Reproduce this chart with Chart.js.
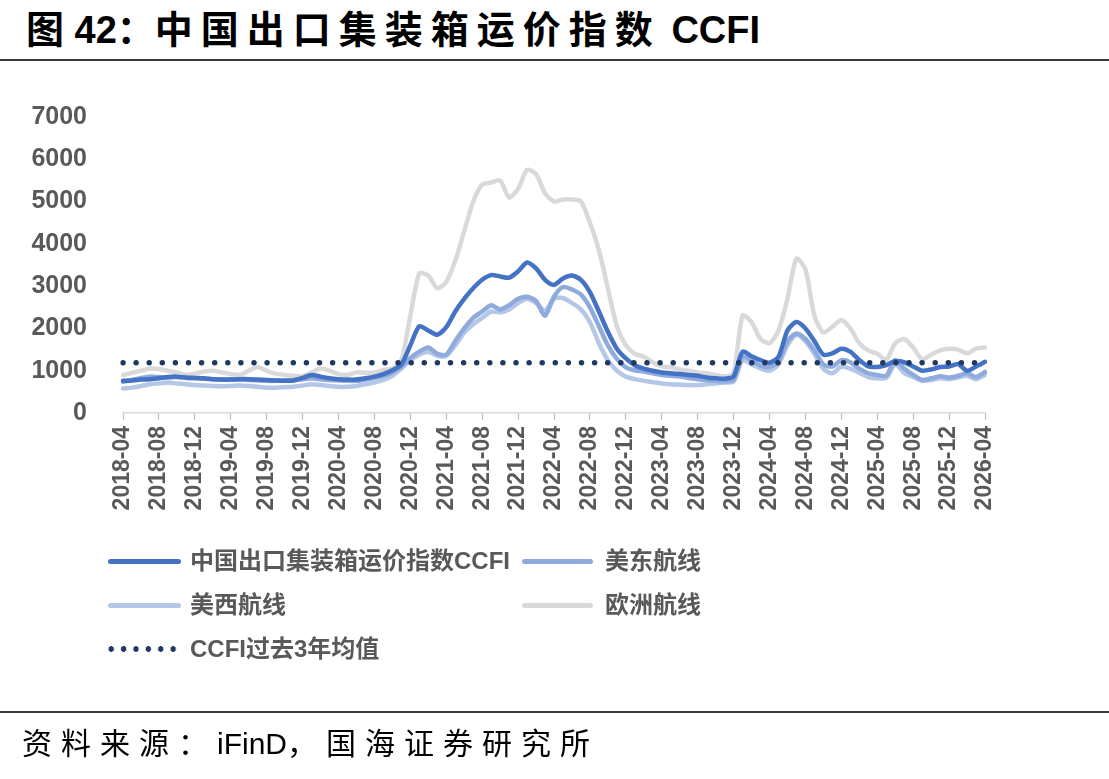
<!DOCTYPE html>
<html><head><meta charset="utf-8">
<script src="https://cdn.jsdelivr.net/npm/chart.js@4.4.1/dist/chart.umd.min.js"></script>
<style>
html,body{margin:0;padding:0;background:#fff;width:1109px;height:779px;overflow:hidden;position:relative;font-family:"Liberation Sans","Noto Sans CJK SC",sans-serif;}
#title{position:absolute;left:26px;top:5px;font-size:38px;font-weight:bold;color:#000;white-space:nowrap;line-height:50px;}
#title .cj{letter-spacing:8px;}
.rule{position:absolute;left:0;width:1109px;height:2px;background:#3a3a3a;}
#c{position:absolute;left:0;top:0;}
.leg{position:absolute;font-size:24px;font-weight:bold;color:#595959;white-space:nowrap;line-height:30px;}
.sw{position:absolute;height:5px;border-radius:3px;}
.dots{position:absolute;height:6px;width:74px;background-image:radial-gradient(circle,#1f3864 2.6px,transparent 3px);background-size:12.4px 6px;background-repeat:repeat-x;}
#src{position:absolute;left:22px;top:724px;font-size:30px;color:#000;white-space:nowrap;line-height:40px;}
#src .cj{letter-spacing:9px;}
</style></head>
<body>
<div id="title">图 42：<span class="cj">中国出口集装箱运价指数</span> CCFI</div>
<div class="rule" style="top:59px"></div>
<canvas id="c" width="1109" height="779"></canvas>

<div class="sw" style="left:108px;top:559px;width:73px;background:#4472c4"></div>
<div class="leg" style="left:190px;top:546px">中国出口集装箱运价指数CCFI</div>
<div class="sw" style="left:522px;top:559px;width:71px;background:#8faadc"></div>
<div class="leg" style="left:605px;top:546px">美东航线</div>
<div class="sw" style="left:108px;top:603px;width:73px;background:#b4c7e7"></div>
<div class="leg" style="left:190px;top:590px">美西航线</div>
<div class="sw" style="left:522px;top:603px;width:71px;background:#d9d9d9"></div>
<div class="leg" style="left:605px;top:590px">欧洲航线</div>
<div class="dots" style="left:105px;top:646px"></div>
<div class="leg" style="left:190px;top:634px">CCFI过去3年均值</div>

<div class="rule" style="top:711px"></div>
<div id="src"><span class="cj">资料来源：</span>iFinD<span class="cj">，国海证券研究所</span></div>

<script>
// Monthly categories 2018-04 ... 2026-04
const months = [];
for (let y = 2018; y <= 2026; y++) {
  for (let m = 1; m <= 12; m++) {
    if ((y === 2018 && m < 4) || (y === 2026 && m > 4)) continue;
    months.push(y + '-' + String(m).padStart(2, '0'));
  }
}

const ccfi = [
  760,770,790,800,820,850,860,840,830,820,800,790,
  790,800,800,790,780,770,760,770,830,900,860,820,
  800,790,790,820,860,920,1010,1150,1600,2050,1950,1850,
  2030,2400,2700,2950,3150,3260,3230,3200,3350,3560,3420,3150,
  3030,3180,3250,3150,2860,2400,1920,1520,1290,1130,1050,1000,
  960,940,920,900,880,840,820,810,870,1450,1340,1250,
  1190,1330,1950,2150,2000,1700,1380,1410,1520,1450,1250,1100,
  1090,1130,1230,1200,1100,1000,1030,1090,1100,1160,1000,1100,
  1210
];
const usEast = [
  740,780,830,860,850,840,850,830,820,810,800,790,
  800,790,780,770,760,760,770,780,800,820,800,780,
  770,760,760,790,830,880,960,1100,1300,1450,1550,1400,
  1380,1700,2000,2250,2400,2550,2450,2550,2700,2750,2650,2300,
  2750,2980,2920,2800,2500,2050,1600,1280,1080,1010,980,940,
  900,880,860,830,800,780,760,750,780,1330,1250,1120,
  1090,1220,1700,1880,1750,1480,1150,1100,1250,1200,1050,940,
  900,880,1250,1050,900,780,820,870,840,880,940,850,
  970
];
const usWest = [
  580,600,640,680,700,720,700,680,660,650,640,630,
  640,650,640,620,600,600,610,620,650,680,660,640,
  620,620,640,680,720,780,880,1050,1250,1380,1450,1350,
  1350,1600,1900,2100,2250,2400,2380,2450,2600,2700,2600,2420,
  2700,2720,2600,2450,2150,1650,1250,1000,860,800,760,730,
  700,680,670,660,660,680,700,720,740,1250,1150,1050,
  1000,1150,1600,1850,1700,1400,1050,940,1100,1050,950,850,
  820,830,1150,950,850,760,780,820,800,840,880,800,
  900
];
const europe = [
  900,950,1000,1050,1040,1000,960,900,930,980,1000,960,
  920,900,1000,1080,1000,930,900,880,870,960,1050,1000,
  920,900,960,950,960,1020,1050,1250,2300,3300,3250,2950,
  3100,3600,4300,5000,5400,5450,5500,5100,5300,5750,5650,5200,
  5000,5050,5050,5000,4500,3850,2950,2050,1600,1400,1330,1200,
  1100,1080,1030,1000,960,940,900,870,950,2300,2150,1750,
  1650,1950,2700,3650,3400,2300,1900,2040,2200,2000,1650,1480,
  1400,1260,1650,1750,1550,1270,1380,1480,1520,1500,1410,1520,
  1550
];
const ccfiAvg3Y = 1190;
const yTicks = [0,1000,2000,3000,4000,5000,6000,7000];

const grey = '#595959';
const lineBase = {pointRadius:0, borderWidth:4.5, tension:0.25, fill:false, borderCapStyle:'round', borderJoinStyle:'round'};

new Chart(document.getElementById('c').getContext('2d'), {
  type: 'line',
  data: {
    labels: months,
    datasets: [
      {label:'CCFI过去3年均值', data: months.map(() => ccfiAvg3Y), borderColor:'#1f3864', borderWidth:5.5, borderDash:[0,13.1], borderCapStyle:'round', pointRadius:0, tension:0, order:0},
      Object.assign({label:'中国出口集装箱运价指数CCFI', data: ccfi, borderColor:'#4472c4', order:1}, lineBase),
      Object.assign({label:'美东航线', data: usEast, borderColor:'#8faadc', order:2}, lineBase),
      Object.assign({label:'美西航线', data: usWest, borderColor:'#b4c7e7', order:3}, lineBase),
      Object.assign({label:'欧洲航线', data: europe, borderColor:'#d9d9d9', order:4}, lineBase)
    ]
  },
  options: {
    responsive: false,
    animation: false,
    layout: {padding: {left: 0, right: 124, top: 117, bottom: 246}},
    plugins: {legend: {display: false}, tooltip: {enabled: false}},
    scales: {
      x: {
        type: 'category',
        offset: false,
        afterFit: (s) => { s.height = 120; },
        border: {display: true, color: '#d9d9d9', width: 1.5},
        grid: {display: true, drawOnChartArea: false, drawTicks: true, tickLength: 7, tickColor: '#bfbfbf', tickWidth: 1.2},
        ticks: {
          autoSkip: false, minRotation: 90, maxRotation: 90, padding: 6,
          color: grey, font: {family: '"Liberation Sans", Arial, sans-serif', size: 23, weight: 'bold'},
          callback: function(v, i) { return i % 4 === 0 ? months[i] : null; }
        }
      },
      y: {
        min: 0, max: 7000,
        afterFit: (s) => { s.width = 123; },
        afterBuildTicks: (s) => { s.ticks = yTicks.map(v => ({value: v})); },
        border: {display: false},
        grid: {display: false},
        ticks: {padding: 28, color: grey, font: {family: '"Liberation Sans", Arial, sans-serif', size: 25, weight: 'bold'},
          callback: (v) => String(v)}
      }
    }
  }
});
</script>
</body></html>
